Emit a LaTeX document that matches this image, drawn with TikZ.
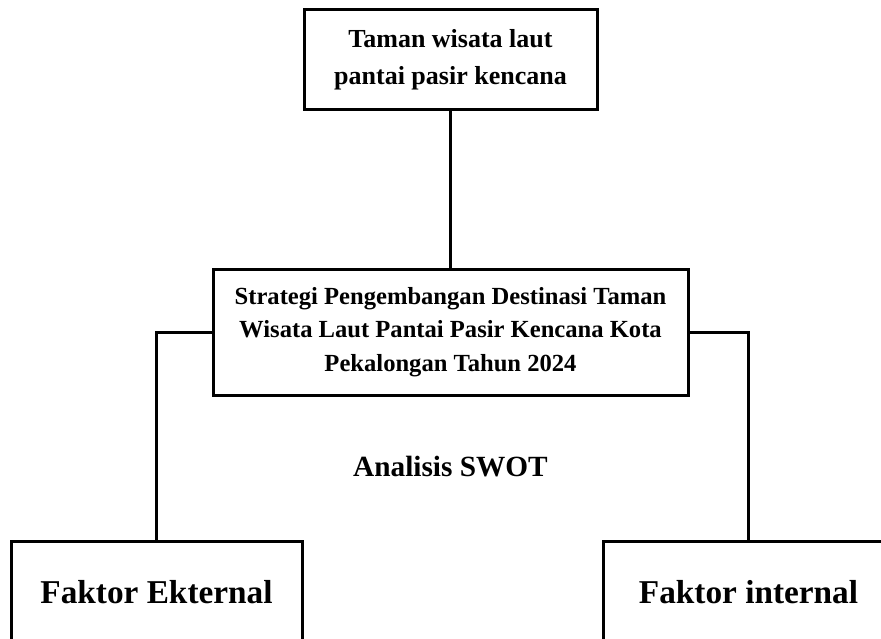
\documentclass[tikz,border=0pt]{standalone}
\usepackage{fontspec}
\setmainfont{Liberation Serif}
\begin{document}
\begin{tikzpicture}[x=1pt,y=-1pt,
  box/.style={draw=black,line width=3pt,rectangle,inner sep=0pt,align=center,font=\bfseries},
  link/.style={draw=black,line width=3pt}]
\useasboundingbox (0,0) rectangle (881,639);
\clip (0,0) rectangle (881,639);
\node[box,minimum width=293pt,minimum height=100pt,font=\bfseries\fontsize{26}{37}\selectfont] (top) at (450.5,60)
  {Taman wisata laut\\pantai pasir kencana};
\node[box,minimum width=475pt,minimum height=126pt,font=\bfseries\fontsize{24.6}{33.5}\selectfont] (mid) at (450.5,332)
  {Strategi Pengembangan Destinasi Taman\\Wisata Laut Pantai Pasir Kencana Kota\\Pekalongan Tahun 2024};
\node[font=\bfseries\fontsize{29.3}{34}\selectfont,inner sep=0pt] (swot) at (450.5,467) {Analisis SWOT};
\node[box,minimum width=291pt,minimum height=102pt,font=\bfseries\fontsize{33.3}{40}\selectfont] (ext) at (156.5,592) {Faktor Ekternal};
\node[box,minimum width=291pt,minimum height=102pt,font=\bfseries\fontsize{33.3}{40}\selectfont] (int) at (748.5,592) {Faktor internal};
\draw[link] (top.south) -- (mid.north);
\draw[link] (mid.west) -| (ext.north);
\draw[link] (mid.east) -| (int.north);
\end{tikzpicture}
\end{document}
